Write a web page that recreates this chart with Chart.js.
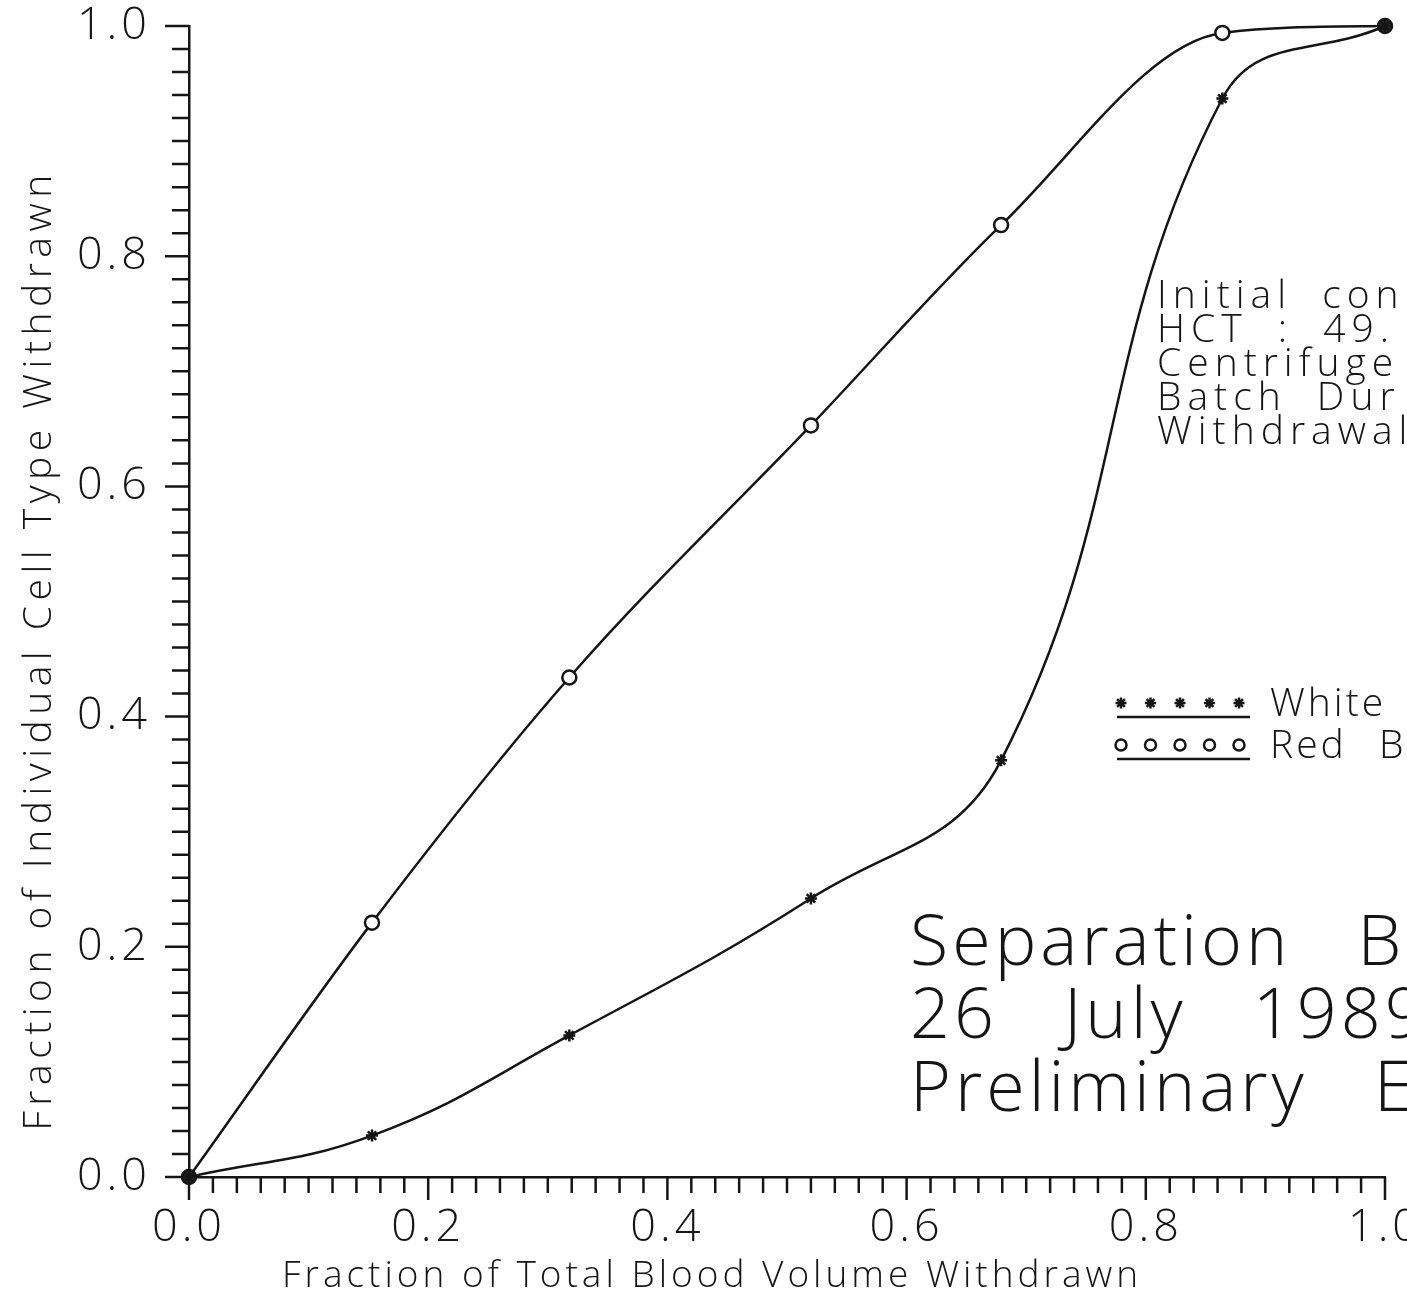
<!DOCTYPE html>
<html>
<head>
<meta charset="utf-8">
<script src="https://cdn.jsdelivr.net/npm/chart.js@4.4.1/dist/chart.umd.min.js"></script>
<style>
  html, body { margin: 0; padding: 0; background: #fff; }
</style>
</head>
<body>
<canvas id="myChart" width="1407" height="1300"></canvas>
<script>
// fraction of total blood volume withdrawn at each sample
const volumeFraction = [0, 0.153, 0.318, 0.52, 0.679, 0.864, 1.0];
// fraction of each cell type withdrawn at those samples
const whiteCells = [0, 0.036, 0.123, 0.242, 0.362, 0.937, 1.0];
const redCells = [0, 0.221, 0.434, 0.653, 0.827, 0.994, 1.0];
const tickLabels = ['0.0', '0.2', '0.4', '0.6', '0.8', '1.0'];
const legendNames = ['White Blood Cells', 'Red Blood Cells'];
const infoLines = ['Initial con', 'HCT : 49.', 'Centrifuge', 'Batch Dur', 'Withdrawal'];
const bigLines = ['Separation B', '26 July 1989', 'Preliminary E'];
const xTitle = 'Fraction of Total Blood Volume Withdrawn';
const yTitle = 'Fraction of Individual Cell Type Withdrawn';

const INK = '#151515';
const FONT = "'Open Sans', 'DejaVu Sans', sans-serif";

function toPoints(values) {
  return volumeFraction.map((x, i) => ({ x: x, y: values[i] }));
}

function endFill(fill) {
  return ctx => (ctx.dataIndex === 0 || ctx.dataIndex === volumeFraction.length - 1) ? '#333' : fill;
}

// minor ticks every 0.02, longer ones at the labelled values
const tickMarks = {
  id: 'tickMarks',
  beforeDraw(chart) {
    chart.ctx.letterSpacing = '4px';
  },
  afterDraw(chart) {
    const { ctx, scales: { x, y } } = chart;
    ctx.save();
    ctx.strokeStyle = INK;
    ctx.lineWidth = 2.5;
    ctx.beginPath();
    for (let k = 0; k <= 50; k++) {
      const v = k / 50;
      const major = k % 10 === 0;
      const px = x.getPixelForValue(v);
      ctx.moveTo(px, x.top);
      ctx.lineTo(px, x.top + (major ? 23 : 16));
      const py = y.getPixelForValue(v);
      ctx.moveTo(y.right, py);
      ctx.lineTo(y.right - (major ? 24 : 17), py);
    }
    ctx.stroke();
    ctx.restore();
  }
};

// axis titles, notes and the legend
const notes = {
  id: 'notes',
  afterDraw(chart) {
    const ctx = chart.ctx;
    ctx.save();
    ctx.fillStyle = INK;
    ctx.textBaseline = 'middle';

    // axis titles
    ctx.textAlign = 'center';
    ctx.font = '300 37px ' + FONT;
    ctx.letterSpacing = '4px';
    ctx.fillText(xTitle, 712, 1276);
    ctx.save();
    ctx.translate(40, 650);
    ctx.rotate(-Math.PI / 2);
    ctx.font = '300 39px ' + FONT;
    ctx.letterSpacing = '5.5px';
    ctx.fillText(yTitle, 0, 0);
    ctx.restore();

    ctx.textAlign = 'left';
    ctx.font = '300 39px ' + FONT;
    ctx.letterSpacing = '6px';
    ctx.wordSpacing = '14px';
    infoLines.forEach((t, i) => ctx.fillText(t, 1157, 297 + i * 34));

    // legend
    const styles = [
      { pointStyle: 'star', radius: 5.5, borderWidth: 2.5, rotation: 0 },
      { pointStyle: 'circle', radius: 5.5, borderWidth: 2.5, rotation: 0 }
    ];
    const rows = [703, 745];
    ctx.letterSpacing = '3px';
    ctx.wordSpacing = '19px';
    rows.forEach((ry, r) => {
      ctx.strokeStyle = INK;
      ctx.fillStyle = '#fff';
      for (let k = 0; k < 5; k++) {
        Chart.helpers.drawPoint(ctx, styles[r], 1121 + k * 29.5, ry);
      }
      ctx.lineWidth = 2.5;
      ctx.beginPath();
      ctx.moveTo(1117, ry + 14);
      ctx.lineTo(1250, ry + 14);
      ctx.stroke();
      ctx.fillStyle = INK;
      ctx.fillText(legendNames[r], 1270, ry + 2);
    });

    ctx.font = '300 70px ' + FONT;
    ctx.letterSpacing = '4px';
    ctx.wordSpacing = '44px';
    bigLines.forEach((t, i) => ctx.fillText(t, 910, 945 + i * 73));
    ctx.restore();
  }
};

const chart = new Chart(document.getElementById('myChart'), {
  type: 'line',
  data: {
    datasets: [
      {
        label: legendNames[0],
        data: toPoints(whiteCells),
        borderColor: INK,
        borderWidth: 2.5,
        tension: 0.42,
        pointStyle: 'star',
        pointRadius: 6,
        pointBorderWidth: 2.5,
        pointBorderColor: INK,
        pointBackgroundColor: INK,
        clip: false
      },
      {
        label: legendNames[1],
        data: toPoints(redCells),
        borderColor: INK,
        borderWidth: 2.5,
        cubicInterpolationMode: 'monotone',
        pointStyle: 'circle',
        pointRadius: 7,
        pointBorderWidth: 2.5,
        pointBorderColor: INK,
        pointBackgroundColor: endFill('#fff'),
        clip: false
      }
    ]
  },
  options: {
    responsive: false,
    animation: false,
    layout: { padding: { top: 26, right: 22, left: 0, bottom: 0 } },
    plugins: {
      legend: { display: false },
      tooltip: { enabled: false }
    },
    scales: {
      x: {
        type: 'linear',
        min: 0,
        max: 1,
        afterFit(scale) {
          scale.height = 123;
          scale.paddingLeft = 0;
          scale.paddingRight = 0;
        },
        grid: { display: false, drawTicks: false },
        border: { display: true, color: INK, width: 2.5 },
        ticks: {
          stepSize: 0.2,
          padding: 24,
          color: INK,
          font: { family: FONT, size: 45, weight: '300' },
          callback: v => tickLabels[Math.round(v * 5)]
        }
      },
      y: {
        type: 'linear',
        min: 0,
        max: 1,
        afterFit(scale) {
          scale.width = 189;
          scale.paddingTop = 0;
          scale.paddingBottom = 0;
        },
        grid: { display: false, drawTicks: false },
        border: { display: true, color: INK, width: 2.5 },
        ticks: {
          stepSize: 0.2,
          padding: 38,
          color: INK,
          font: { family: FONT, size: 45, weight: '300' },
          callback: v => tickLabels[Math.round(v * 5)]
        }
      }
    }
  },
  plugins: [tickMarks, notes]
});
</script>
</body>
</html>
